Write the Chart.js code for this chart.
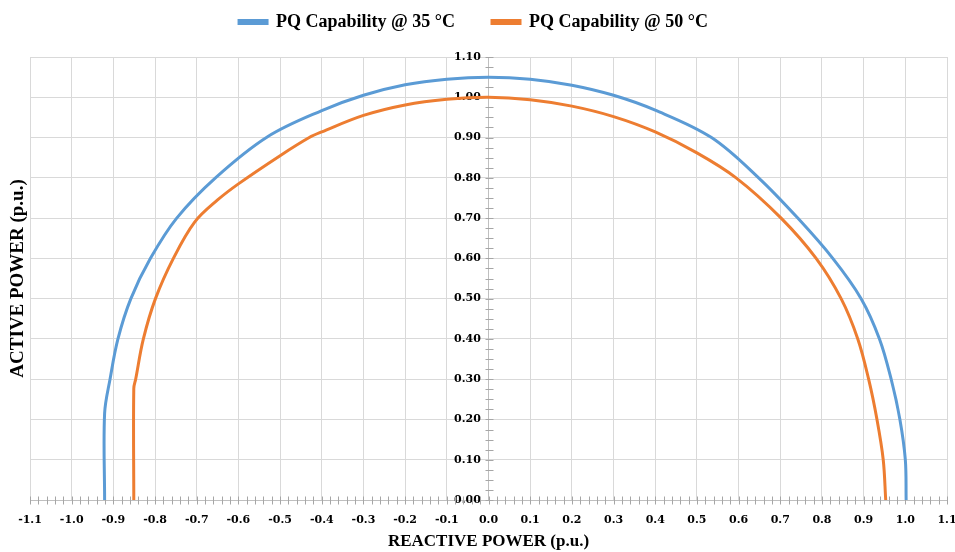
<!DOCTYPE html>
<html>
<head>
<meta charset="utf-8">
<script src="https://cdn.jsdelivr.net/npm/chart.js@4/dist/chart.umd.min.js"></script>
<style>
  html, body { margin: 0; padding: 0; background: #fff; }
  #wrap { width: 955px; height: 552px; }
</style>
</head>
<body>
<div id="wrap"><canvas id="pq"></canvas></div>
<script>
// PQ capability curves (x = reactive, y = active, p.u.)
const seriesNames = ['PQ Capability @ 35 °C', 'PQ Capability @ 50 °C'];

const q35 = [-0.921, -0.921, -0.908, -0.889, -0.858, -0.811, -0.748, -0.655, -0.530, -0.400, -0.300, -0.200, -0.100, 0.000,
             0.100, 0.200, 0.300, 0.400, 0.535, 0.648, 0.742, 0.826, 0.894, 0.938, 0.966, 0.987, 1.000, 1.002];
const p35 = [0.000, 0.215, 0.300, 0.400, 0.500, 0.600, 0.700, 0.800, 0.902, 0.967, 1.005, 1.031, 1.045, 1.050,
             1.045, 1.030, 1.005, 0.968, 0.900, 0.800, 0.700, 0.600, 0.500, 0.400, 0.300, 0.200, 0.100, 0.000];

const q50 = [-0.851, -0.851, -0.8465, -0.828, -0.799, -0.756, -0.705, -0.650, -0.600, -0.500, -0.430, -0.400, -0.300, -0.200, -0.100, 0.000,
             0.100, 0.200, 0.300, 0.400, 0.500, 0.594, 0.702, 0.786, 0.846, 0.886, 0.912, 0.932, 0.947, 0.953];
const p50 = [0.000, 0.277, 0.300, 0.400, 0.500, 0.600, 0.690, 0.745, 0.785, 0.855, 0.900, 0.914, 0.955, 0.981, 0.995, 1.000,
             0.994, 0.978, 0.952, 0.914, 0.862, 0.800, 0.700, 0.600, 0.500, 0.400, 0.300, 0.200, 0.100, 0.000];

const xMin = -1.1, xMax = 1.1, xStep = 0.1, xMinor = 0.02;
const yMin = 0, yMax = 1.1, yStep = 0.1, yMinor = 0.025;

function toPoints(xs, ys) {
    return xs.map((v, i) => ({ x: v, y: ys[i] }));
}

Chart.defaults.font.family = "'Liberation Serif', serif";
Chart.defaults.color = '#000';

// small cross ticks on both axes, like the spreadsheet chart
const minorTicks = {
    id: 'minorTicks',
    beforeDatasetsDraw(chart) {
        const { ctx, scales: { x, y } } = chart;
        const x0 = Math.round(x.getPixelForValue(0)) + 0.5;
        const y0 = Math.round(y.getPixelForValue(0)) + 0.5;
        ctx.save();
        ctx.strokeStyle = '#a6a6a6';
        ctx.lineWidth = 1;
        ctx.beginPath();
        const nx = Math.round((xMax - xMin) / xMinor);
        for (let i = 0; i <= nx; i++) {
            const px = Math.round(x.getPixelForValue(xMin + i * xMinor)) + 0.5;
            ctx.moveTo(px, y0 - 4);
            ctx.lineTo(px, y0 + 4);
        }
        const ny = Math.round((yMax - yMin) / yMinor);
        for (let j = 0; j <= ny; j++) {
            const py = Math.round(y.getPixelForValue(yMin + j * yMinor)) + 0.5;
            ctx.moveTo(x0 - 4, py);
            ctx.lineTo(x0 + 4, py);
        }
        ctx.stroke();
        ctx.restore();
    }
};

const tickFont = { family: "'DejaVu Serif', serif", size: 11, weight: 'bold' };

new Chart(document.getElementById('pq'), {
    type: 'scatter',
    data: {
        datasets: [
            {
                label: seriesNames[0],
                data: toPoints(q35, p35),
                borderColor: '#5B9BD5',
                backgroundColor: '#5B9BD5',
            },
            {
                label: seriesNames[1],
                data: toPoints(q50, p50),
                borderColor: '#ED7D31',
                backgroundColor: '#ED7D31',
            },
        ],
    },
    options: {
        responsive: true,
        maintainAspectRatio: false,
        animation: false,
        showLine: true,
        elements: {
            line: { borderWidth: 3, tension: 0.35 },
            point: { radius: 0, hoverRadius: 0 },
        },
        layout: { padding: { top: 3, right: 8, left: 0, bottom: 0 } },
        plugins: {
            legend: {
                position: 'top',
                labels: {
                    boxWidth: 28,
                    boxHeight: 3,
                    padding: 10,
                    font: { family: "'Liberation Serif', serif", size: 18, weight: 'bold' },
                    // wider gap between the two entries
                    generateLabels(chart) {
                        const items = Chart.defaults.plugins.legend.labels.generateLabels(chart);
                        items.forEach((it, i) => {
                            if (i < items.length - 1) it.text += '      ';
                        });
                        return items;
                    },
                },
            },
            tooltip: { enabled: false },
        },
        scales: {
            x: {
                type: 'linear',
                min: xMin,
                max: xMax,
                grid: { color: '#d9d9d9', drawTicks: false },
                border: { color: '#bfbfbf' },
                ticks: {
                    stepSize: xStep,
                    padding: 14,
                    font: tickFont,
                    maxRotation: 0,
                    autoSkip: false,
                    callback: v => (Math.abs(v) < 1e-9 ? 0 : v).toFixed(1),
                },
                title: {
                    display: true,
                    text: 'REACTIVE POWER (p.u.)',
                    font: { size: 17, weight: 'bold' },
                    padding: { top: 4, bottom: 0 },
                },
                afterFit(scale) {
                    scale.height = 52;
                    scale.paddingLeft = 0;
                    scale.paddingRight = 0;
                },
            },
            xTop: {
                type: 'linear',
                position: 'top',
                grid: { display: false },
                border: { display: false },
                ticks: { display: false },
                afterFit(scale) {
                    scale.height = 16;
                    scale.paddingLeft = 0;
                    scale.paddingRight = 0;
                },
            },
            y: {
                type: 'linear',
                position: { x: 0 },
                min: yMin,
                max: yMax,
                grid: { color: '#d9d9d9', drawTicks: false },
                border: { color: '#bfbfbf' },
                ticks: {
                    stepSize: yStep,
                    font: tickFont,
                    callback: v => v.toFixed(2) + '  ',
                },
            },
            yTitle: {
                type: 'linear',
                position: 'left',
                min: yMin,
                max: yMax,
                grid: { display: false },
                border: { display: false },
                ticks: { display: false },
                title: {
                    display: true,
                    text: 'ACTIVE POWER (p.u.)',
                    font: { size: 19, weight: 'bold' },
                    padding: { top: 7, bottom: 0 },
                },
                afterFit(scale) {
                    scale.width = 30;
                },
            },
        },
    },
    plugins: [minorTicks],
});
</script>
</body>
</html>
